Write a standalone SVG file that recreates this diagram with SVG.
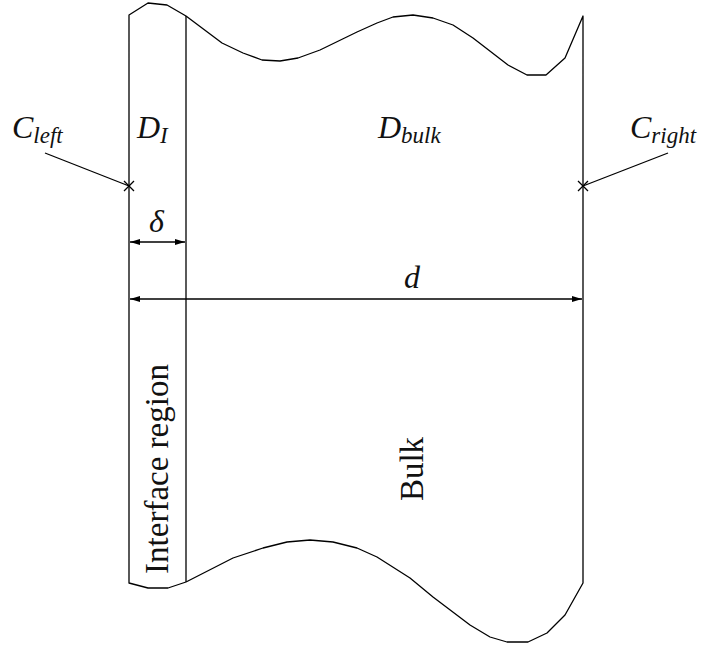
<svg xmlns="http://www.w3.org/2000/svg" width="704" height="649" viewBox="0 0 704 649">
<style>
.ln{fill:none;stroke:#000;stroke-width:1.3;stroke-linejoin:round}
.t{font-family:"Liberation Serif",serif;font-style:italic;font-size:32px;fill:#111}
.r{font-family:"Liberation Serif",serif;font-size:33px;fill:#111}
.sub{font-size:23px}
</style>
<defs>
<marker id="ah" viewBox="0 0 10 6" refX="10" refY="3" markerWidth="10" markerHeight="6" markerUnits="userSpaceOnUse" orient="auto-start-reverse">
<path d="M0,0 L10,3 L0,6 Z" fill="#000"/>
</marker>
</defs>
<g id="body">
<path class="ln" d="M129,583 L129,15 L148,3 L167,5 L186,16 L222,43 L243,53 L262,60 L280,61 L298,58 L320,50 L357,32 L377,23 L393,17 L413,15 L433,18 L453,25 L473,38 L508,65 L527,75 L546,75 L565,58 L583,16 L583,583 L565,615 L547,633 L528,642 L507,642 L490,637 L470,625 L433,597 L410,578 L377,557 L357,548 L333,542 L310,540 L287,542 L263,548 L233,558 L186,582 L168,588 L148,588 Z"/>
</g>
<g id="interface">
<line class="ln" x1="186" y1="16" x2="186" y2="582"/>
<text class="r" transform="translate(168,469) rotate(-90)" text-anchor="middle">Interface region</text>
</g>
<g id="bulk">
<text class="r" transform="translate(423,469) rotate(-90)" text-anchor="middle">Bulk</text>
</g>
<g id="labels">
<text class="t" x="12" y="138">C<tspan class="sub" dy="5">left</tspan></text>
<text class="t" x="137" y="138">D<tspan class="sub" dy="5">I</tspan></text>
<text class="t" x="378" y="138">D<tspan class="sub" dy="5">bulk</tspan></text>
<text class="t" x="630" y="138">C<tspan class="sub" dy="5">right</tspan></text>
<text class="t" x="149" y="232">δ</text>
<text class="t" x="404" y="288">d</text>
</g>
<g id="connectors">
<line class="ln" x1="45" y1="153" x2="129" y2="186"/>
<line class="ln" x1="668" y1="153" x2="583" y2="186"/>
<path class="ln" d="M124,181 L134,191 M124,191 L134,181"/>
<path class="ln" d="M578,181 L588,191 M578,191 L588,181"/>
<line class="ln" x1="130" y1="242" x2="185" y2="242" marker-start="url(#ah)" marker-end="url(#ah)"/>
<line class="ln" x1="130" y1="299" x2="582" y2="299" marker-start="url(#ah)" marker-end="url(#ah)"/>
</g>
</svg>
